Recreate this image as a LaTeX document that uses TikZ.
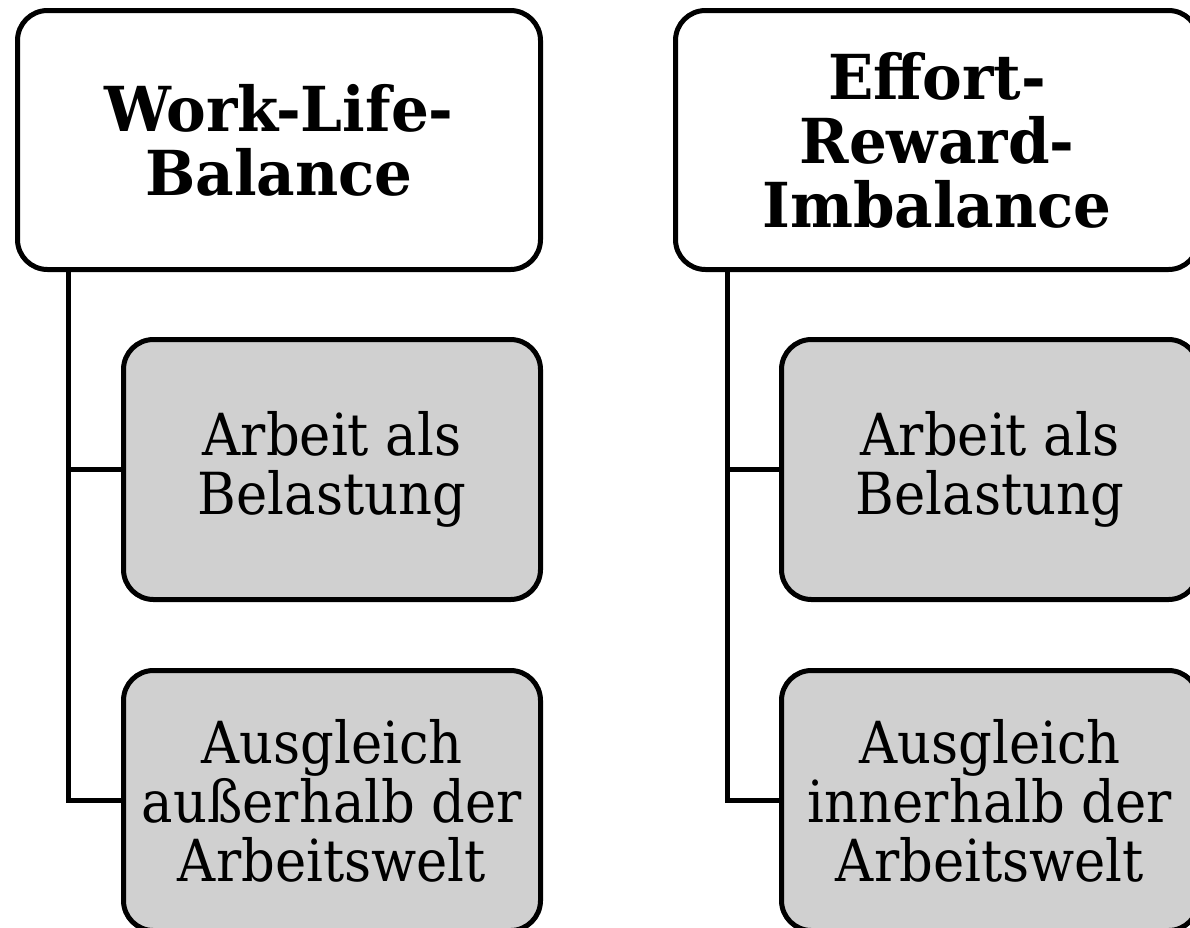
\documentclass[tikz,border=0pt]{standalone}
\usepackage{fontspec}
\setmainfont{DejaVu Serif}
\newfontfamily\headfont[FakeStretch=0.96]{DejaVu Serif}
\newfontfamily\subfont[FakeStretch=0.91]{DejaVu Serif}
\definecolor{boxgray}{RGB}{208,208,208}
\begin{document}
\begin{tikzpicture}[x=1pt,y=-1pt,
  box/.style={draw=black, line width=5pt, rounded corners=30pt, align=center, inner sep=0pt},
  head/.style={box, fill=white, minimum width=523pt, minimum height=259pt, font=\headfont\bfseries\fontsize{62}{64}\selectfont},
  sub/.style={box, fill=boxgray, minimum width=417pt, minimum height=260pt, font=\subfont\fontsize{58}{59}\selectfont},
  conn/.style={line width=5pt, line join=miter}]
\useasboundingbox (0,0) rectangle (1190,927);
\clip (0,0) rectangle (1190,927);
% left column
\node[head] (wlb) at (279,140) {Work-Life-\\Balance};
\node[sub] (l1) at (332,469.5) {Arbeit als\\Belastung};
\node[sub] (l2) at (332,800.5) {Ausgleich\\außerhalb der\\Arbeitswelt};
\coordinate (lx) at (68,0);
\draw[conn] (wlb.south -| lx) |- (l2.west);
\draw[conn] (l1.west -| lx) -- (l1.west);
% right column
\node[head] (eri) at (937,140) {Effort-\\Reward-\\Imbalance};
\node[sub] (r1) at (990,469.5) {Arbeit als\\Belastung};
\node[sub] (r2) at (990,800.5) {Ausgleich\\innerhalb der\\Arbeitswelt};
\coordinate (rx) at (727,0);
\draw[conn] (eri.south -| rx) |- (r2.west);
\draw[conn] (r1.west -| rx) -- (r1.west);
\end{tikzpicture}
\end{document}
